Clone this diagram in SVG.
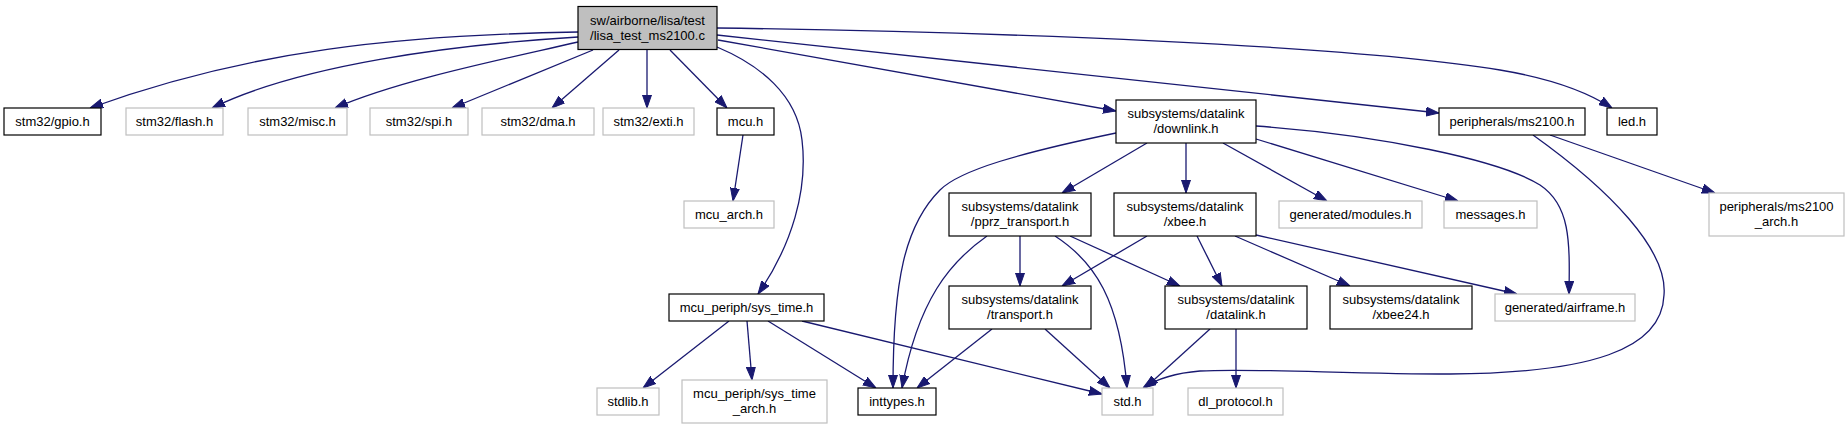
<svg xmlns="http://www.w3.org/2000/svg" width="1848" height="429" viewBox="0 0 1848 429">
<defs>
<style>
.n rect{fill:#fff;stroke:#000;stroke-width:1.2}
.n.g rect{stroke:#bfbfbf}
.n.root rect{fill:#bfbfbf}
text{font-family:"Liberation Sans",Arial,Helvetica,sans-serif;font-size:13px;fill:#000;text-anchor:middle}
#edges path{fill:none;stroke:#191970;stroke-width:1.3;marker-end:url(#ah)}
</style>
<marker id="ah" viewBox="0 0 13 10" refX="13" refY="5" markerWidth="13" markerHeight="10" markerUnits="userSpaceOnUse" orient="auto">
<path d="M0,0.5 L13,5 L0,9.5 z" fill="#191970" stroke="#191970" stroke-width="1"/>
</marker>
</defs>
<rect width="1848" height="429" fill="#fff"/>
<g id="edges">
<path d="M578,32 C400,35 250,50 90,108"/>
<path d="M578,37 C450,45 300,65 212,108"/>
<path d="M578,42 C500,60 400,80 335,108"/>
<path d="M593,50 L452,108"/>
<path d="M619,50 L552,108"/>
<path d="M647,50 L647,108"/>
<path d="M670,50 L727,108"/>
<path d="M717,47 C760,65 797,95 802,140 C808,190 792,245 758,294"/>
<path d="M718,40 L1116,111"/>
<path d="M717,35 L1439,113"/>
<path d="M717,28 C1000,32 1350,45 1500,70 C1560,80 1592,95 1612,108"/>
<path d="M1147,143 L1062,193"/>
<path d="M1116,133 C1020,153 960,170 940,190 C905,225 893,280 893,388"/>
<path d="M1186,143 L1186,193"/>
<path d="M1223,143 L1327,201"/>
<path d="M1256,139 L1458,201"/>
<path d="M1256,126 C1380,135 1500,160 1540,185 C1570,205 1570,240 1569,294"/>
<path d="M1550,135 L1715,193"/>
<path d="M1533,135 C1610,190 1668,250 1664,295 C1662,350 1590,373 1450,374 C1350,374 1250,368 1200,371 C1175,373 1158,378 1143,388"/>
<path d="M743,135 L733,201"/>
<path d="M1020,236 L1020,286"/>
<path d="M987,236 C950,262 918,300 902,388"/>
<path d="M1055,236 C1095,262 1120,300 1127,388"/>
<path d="M1070,236 L1180,286"/>
<path d="M1147,236 L1062,286"/>
<path d="M1197,236 L1222,286"/>
<path d="M1235,236 L1350,286"/>
<path d="M1256,235 L1517,294"/>
<path d="M992,329 L917,388"/>
<path d="M1045,329 L1110,388"/>
<path d="M1210,329 L1145,388"/>
<path d="M1236,329 L1236,388"/>
<path d="M729,321 L643,388"/>
<path d="M747,321 L752,380"/>
<path d="M768,321 L876,388"/>
<path d="M802,321 L1102,394"/>
</g>
<g id="root" class="n root"><rect x="578" y="6.5" width="139" height="43"/><text x="647.5" y="24.5">sw/airborne/lisa/test</text><text x="647.5" y="39.5">/lisa_test_ms2100.c</text></g>
<g id="gpio" class="n"><rect x="4" y="108" width="97" height="27"/><text x="52.5" y="126">stm32/gpio.h</text></g>
<g id="flash" class="n g"><rect x="126" y="108" width="97" height="27"/><text x="174.5" y="126">stm32/flash.h</text></g>
<g id="misc" class="n g"><rect x="248" y="108" width="99" height="27"/><text x="297.5" y="126">stm32/misc.h</text></g>
<g id="spi" class="n g"><rect x="370" y="108" width="98" height="27"/><text x="419" y="126">stm32/spi.h</text></g>
<g id="dma" class="n g"><rect x="482" y="108" width="112" height="27"/><text x="538" y="126">stm32/dma.h</text></g>
<g id="exti" class="n g"><rect x="603" y="108" width="91" height="27"/><text x="648.5" y="126">stm32/exti.h</text></g>
<g id="mcu" class="n"><rect x="717" y="108" width="57" height="27"/><text x="745.5" y="126">mcu.h</text></g>
<g id="downlink" class="n"><rect x="1116" y="100" width="140" height="43"/><text x="1186" y="118">subsystems/datalink</text><text x="1186" y="133">/downlink.h</text></g>
<g id="ms2100" class="n"><rect x="1439" y="108" width="146" height="27"/><text x="1512" y="126">peripherals/ms2100.h</text></g>
<g id="led" class="n"><rect x="1607" y="108" width="50" height="27"/><text x="1632" y="126">led.h</text></g>
<g id="mcu_arch" class="n g"><rect x="684" y="201" width="90" height="27"/><text x="729" y="219">mcu_arch.h</text></g>
<g id="pprz_transport" class="n"><rect x="949" y="193" width="142" height="43"/><text x="1020" y="211">subsystems/datalink</text><text x="1020" y="226">/pprz_transport.h</text></g>
<g id="xbee" class="n"><rect x="1114" y="193" width="142" height="43"/><text x="1185" y="211">subsystems/datalink</text><text x="1185" y="226">/xbee.h</text></g>
<g id="modules" class="n g"><rect x="1279" y="201" width="143" height="27"/><text x="1350.5" y="219">generated/modules.h</text></g>
<g id="messages" class="n g"><rect x="1444" y="201" width="93" height="27"/><text x="1490.5" y="219">messages.h</text></g>
<g id="ms2100_arch" class="n g"><rect x="1709" y="193" width="135" height="43"/><text x="1776.5" y="211">peripherals/ms2100</text><text x="1776.5" y="226">_arch.h</text></g>
<g id="sys_time" class="n"><rect x="669" y="294" width="155" height="27"/><text x="746.5" y="312">mcu_periph/sys_time.h</text></g>
<g id="transport" class="n"><rect x="949" y="286" width="142" height="43"/><text x="1020" y="304">subsystems/datalink</text><text x="1020" y="319">/transport.h</text></g>
<g id="datalink" class="n"><rect x="1165" y="286" width="142" height="43"/><text x="1236" y="304">subsystems/datalink</text><text x="1236" y="319">/datalink.h</text></g>
<g id="xbee24" class="n"><rect x="1330" y="286" width="142" height="43"/><text x="1401" y="304">subsystems/datalink</text><text x="1401" y="319">/xbee24.h</text></g>
<g id="airframe" class="n g"><rect x="1495" y="294" width="140" height="27"/><text x="1565" y="312">generated/airframe.h</text></g>
<g id="stdlib" class="n g"><rect x="597" y="388" width="62" height="27"/><text x="628" y="406">stdlib.h</text></g>
<g id="sys_time_arch" class="n g"><rect x="682" y="380" width="145" height="43"/><text x="754.5" y="398">mcu_periph/sys_time</text><text x="754.5" y="413">_arch.h</text></g>
<g id="inttypes" class="n"><rect x="858" y="388" width="78" height="27"/><text x="897" y="406">inttypes.h</text></g>
<g id="std" class="n g"><rect x="1102" y="388" width="51" height="27"/><text x="1127.5" y="406">std.h</text></g>
<g id="dl_protocol" class="n g"><rect x="1188" y="388" width="95" height="27"/><text x="1235.5" y="406">dl_protocol.h</text></g>
</svg>
